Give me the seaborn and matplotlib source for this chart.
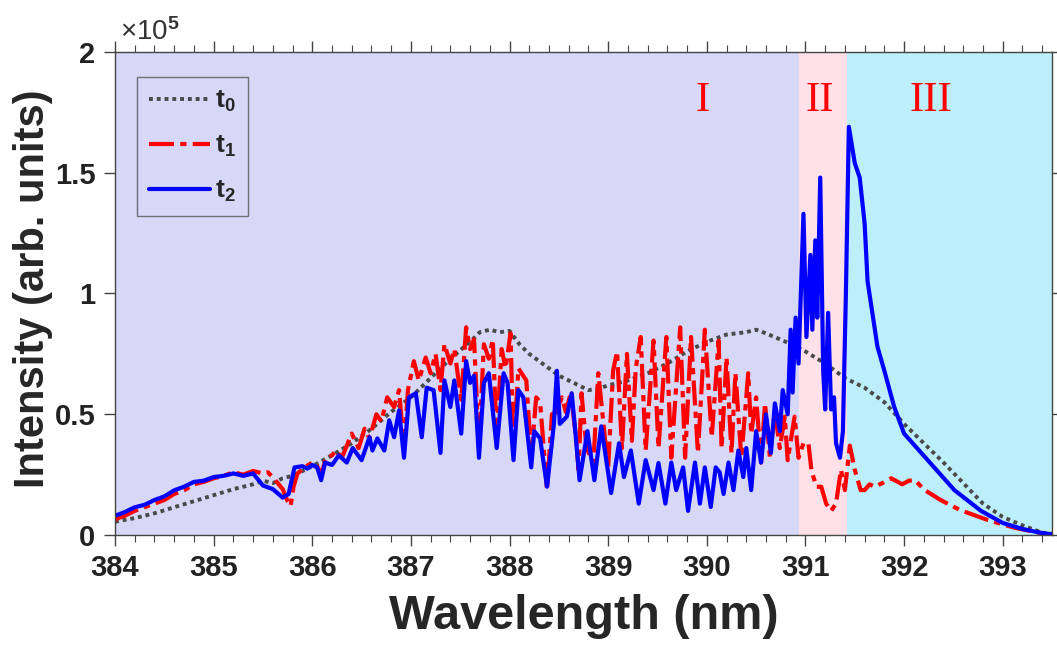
import numpy as np
import matplotlib
matplotlib.use("Agg")
import matplotlib.pyplot as plt
import seaborn as sns
from matplotlib.ticker import MultipleLocator

# spectra: wavelength (nm), intensity in units of 1e3 (arb.)
wl_t0 = [384.0, 384.2, 384.4, 384.6, 384.8, 385.0, 385.2, 385.4, 385.5, 385.6,
         385.7, 385.8, 386.0, 386.2, 386.4, 386.6, 386.8, 387.0, 387.2, 387.4,
         387.6, 387.7, 387.8, 387.9, 388.0, 388.1, 388.2, 388.3, 388.4, 388.5,
         388.6, 388.7, 388.8, 388.9, 389.0, 389.2, 389.4, 389.6, 389.8, 390.0,
         390.2, 390.4, 390.5, 390.6, 390.8, 391.0, 391.2, 391.4, 391.6, 391.8,
         392.0, 392.2, 392.4, 392.6, 392.8, 393.0, 393.2, 393.4, 393.5]
int_t0 = [5.5, 7, 9, 11.5, 14, 16.5, 19, 21, 22.5, 21.5,
          23.5, 24.5, 28.5, 33, 38, 44, 51, 57, 65, 73,
          80, 84, 85, 84, 84.5, 79, 75, 72, 69, 66,
          64, 62, 60, 60.5, 62, 64, 67, 71, 76, 80,
          83, 84, 85, 83.5, 80, 76, 71, 65, 61, 55,
          46, 38, 30, 21.5, 13, 7.5, 4, 1, 0.5]

wl_t1 = [384.0, 384.1, 384.2, 384.3, 384.4, 384.5, 384.6, 384.7, 384.8, 384.9,
         385.0, 385.1, 385.2, 385.3, 385.4, 385.5, 385.55, 385.62, 385.7, 385.75,
         385.78, 385.81, 385.85, 385.92, 386.0, 386.05, 386.09, 386.14, 386.2, 386.24,
         386.3, 386.4, 386.47, 386.53, 386.58, 386.65, 386.7, 386.76, 386.83, 386.88,
         386.93, 386.97, 387.03, 387.08, 387.15, 387.2, 387.25, 387.3, 387.34, 387.4,
         387.44, 387.51, 387.56, 387.6, 387.64, 387.69, 387.74, 387.79, 387.83, 387.87,
         387.92, 387.96, 388.01, 388.04, 388.09, 388.17, 388.22, 388.27, 388.31, 388.38,
         388.43, 388.48, 388.53, 388.57, 388.62, 388.67, 388.7, 388.73, 388.78, 388.85,
         388.9, 388.97, 389.0, 389.05, 389.09, 389.14, 389.19, 389.24, 389.28, 389.33,
         389.38, 389.46, 389.51, 389.59, 389.64, 389.73, 389.78, 389.84, 389.91, 389.98,
         390.05, 390.12, 390.15, 390.2, 390.25, 390.29, 390.35, 390.42, 390.45, 390.5,
         390.55, 390.59, 390.64, 390.69, 390.74, 390.79, 390.82, 390.89, 390.93, 390.98,
         391.03, 391.06, 391.11, 391.16, 391.21, 391.26, 391.31, 391.36, 391.4, 391.45,
         391.5, 391.56, 391.6, 391.65, 391.7, 391.78, 391.87, 391.98, 392.05, 392.11,
         392.21, 392.37, 392.57, 392.85, 393.12, 393.39, 393.5]
int_t1 = [6.5, 8, 10, 11.5, 13, 14.5, 17, 18.5, 21, 22,
          23.5, 24.5, 26, 25, 26.5, 25.5, 26, 23, 19, 14,
          12, 20, 25.5, 28, 30, 28.5, 25, 32, 33, 35,
          32, 42, 36, 44, 40, 50, 47, 57, 53, 60,
          36, 60, 72, 64, 73.5, 67, 75, 60, 79, 71,
          77, 56, 86, 77, 81, 36, 79, 73, 81, 40.5,
          77, 69, 83.5, 35, 69, 64, 32, 57, 55, 18.6,
          50, 51, 57, 51, 58.7, 42, 27, 58.7, 36, 30,
          67, 39, 28, 68, 76, 36, 75, 39, 69, 82,
          35, 80.5, 36, 82, 32, 86, 32, 82, 34, 85,
          40.5, 80.5, 36, 73.5, 34, 67, 32, 67, 42, 57,
          30, 54.5, 32, 51.6, 36, 49, 31, 49, 32, 38,
          38, 27, 20, 20, 13, 10, 13, 27, 18.6, 37,
          27, 18.6, 18.6, 21, 20, 21.5, 23.5, 21, 22.5, 22.7,
          18.6, 14.5, 10.3, 6.2, 3, 0.8, 0.3]

wl_t2 = [384.0, 384.1, 384.2, 384.3, 384.4, 384.5, 384.6, 384.7, 384.8, 384.9,
         385.0, 385.1, 385.2, 385.3, 385.4, 385.45, 385.5, 385.6, 385.7, 385.76,
         385.82, 385.9, 385.95, 386.0, 386.05, 386.09, 386.13, 386.2, 386.27, 386.35,
         386.41, 386.5, 386.58, 386.61, 386.66, 386.73, 386.78, 386.83, 386.88, 386.93,
         386.98, 387.05, 387.11, 387.16, 387.23, 387.3, 387.34, 387.4, 387.44, 387.51,
         387.56, 387.6, 387.64, 387.69, 387.74, 387.79, 387.87, 387.94, 387.98, 388.04,
         388.09, 388.14, 388.22, 388.25, 388.31, 388.38, 388.45, 388.48, 388.51, 388.58,
         388.63, 388.66, 388.71, 388.79, 388.86, 388.93, 389.03, 389.11, 389.16, 389.23,
         389.31, 389.38, 389.46, 389.51, 389.58, 389.64, 389.69, 389.76, 389.81, 389.88,
         389.93, 389.98, 390.04, 390.09, 390.13, 390.17, 390.22, 390.27, 390.32, 390.37,
         390.4, 390.45, 390.5, 390.55, 390.6, 390.65, 390.69, 390.74, 390.77, 390.82,
         390.85, 390.87, 390.9, 390.93, 390.98, 391.01, 391.05, 391.07, 391.1, 391.12,
         391.15, 391.18, 391.2, 391.23, 391.26, 391.29, 391.31, 391.35, 391.38, 391.41,
         391.44, 391.5, 391.55, 391.6, 391.63, 391.73, 391.8, 391.9, 392.0, 392.24,
         392.51, 392.78, 393.0, 393.2, 393.4, 393.5]
int_t2 = [8, 9.5, 11.5, 12.5, 14.5, 16, 18.5, 20, 22, 22.5,
          24, 24.5, 25.5, 24.5, 25.5, 23, 20.5, 19, 15.5, 17,
          28, 28.5, 27.5, 29, 28, 22.7, 30, 29, 33, 30,
          36, 31, 40.5, 35, 40, 35, 47.5, 40.5, 51.6, 32,
          57, 58.7, 40.5, 61, 60, 34, 64, 53, 64, 42,
          72, 63, 66, 32, 63, 67, 36, 67, 63, 31,
          60, 57, 28, 43, 40, 20, 46, 68, 46, 49,
          58.7, 46, 22.7, 43, 22.7, 45, 17.4, 38, 24, 35,
          13, 31, 18.6, 29.8, 13, 30, 18.6, 28, 10, 30,
          13, 28, 11.6, 28, 26, 17, 30, 18.6, 35, 24,
          36, 18.6, 43, 30, 50, 34, 54.5, 43, 60, 50,
          85, 59, 90, 71, 133, 82, 116, 85, 122, 90,
          148, 68, 52, 92, 52, 57, 38, 32, 43, 100,
          169, 154, 148, 129, 105, 78, 68, 53, 42, 31,
          18.6, 10, 5, 2.5, 0.8, 0.3]

series = [("t$_0$", wl_t0, int_t0), ("t$_1$", wl_t1, int_t1), ("t$_2$", wl_t2, int_t2)]

region_edges = [384.0, 390.93, 391.42, 393.5]
region_names = ["I", "II", "III"]
region_label_x = [389.96, 391.15, 392.27]
region_label_y = 1.8e5

xticks = list(range(384, 394))
yticks = [0, 0.5e5, 1e5, 1.5e5, 2e5]
ytick_labels = ["0", "0.5", "1", "1.5", "2"]

sns.set_theme(style="ticks")
plt.rcParams["font.family"] = ["Liberation Sans", "DejaVu Sans"]
plt.rcParams["font.weight"] = "bold"
plt.rcParams["mathtext.fontset"] = "custom"
plt.rcParams["mathtext.default"] = "bf"
plt.rcParams["mathtext.bf"] = "Liberation Sans:bold"
plt.rcParams["mathtext.rm"] = "Liberation Sans"

fig = plt.figure(figsize=(10.57, 6.62), dpi=100)
ax = fig.add_axes([0.1088, 0.1918, 0.8865, 0.7297])

region_colors = ["#d7d7f8", "#fde0e8", "#bdeffb"]
for i in range(3):
    ax.axvspan(region_edges[i], region_edges[i + 1], color=region_colors[i], lw=0, zorder=0)

styles = [dict(color="#4a4a4a", linestyle=(0, (1, 1)), lw=2.8),
          dict(color="#ff0000", linestyle=(0, (6, 1.5, 1.5, 1.5)), lw=3),
          dict(color="#0000ff", linestyle="-", lw=3)]
for (lab, wl, vals), st in zip(series, styles):
    sns.lineplot(x=wl, y=np.array(vals) * 1e3, ax=ax, label=lab,
                 estimator=None, sort=False, **st)

for name, xx in zip(region_names, region_label_x):
    ax.text(xx, region_label_y, name, color="#ff0000", fontsize=31,
            family="Liberation Serif", fontweight="normal", ha="center", va="center")

ax.set_xlim(384, 393.5)
ax.set_ylim(0, 2e5)
ax.set_xticks(xticks)
ax.xaxis.set_minor_locator(MultipleLocator(0.2))
ax.set_yticks(yticks, ytick_labels)
ax.tick_params(which="both", direction="out", top=True, right=True,
               labeltop=False, labelright=False, color="#444444")
ax.tick_params(which="major", length=8, width=1, labelsize=21, pad=6, labelcolor="#222222")
ax.tick_params(which="minor", length=5, width=0.8)
for sp in ax.spines.values():
    sp.set_color("#444444")
    sp.set_linewidth(1)

ax.set_xlabel("Wavelength (nm)", fontsize=35, fontweight="bold", labelpad=8)
ax.set_ylabel("Intensity (arb. units)", fontsize=30, fontweight="bold")
ax.yaxis.set_label_coords(-0.066, 0.51)
ax.text(0.005, 1.012, "×10$^5$", transform=ax.transAxes, fontsize=20,
        fontweight="normal", color="#333333", ha="left", va="bottom")

leg = ax.legend(loc="upper left", bbox_to_anchor=(0.0235, 0.948), fontsize=19,
                handlelength=2.3, frameon=True, fancybox=False, labelspacing=0.75,
                borderpad=0.45, handletextpad=0.2, borderaxespad=0)
leg.get_frame().set_facecolor("none")
leg.get_frame().set_edgecolor("#555555")
leg.get_frame().set_linewidth(1)

fig.savefig("out.png", dpi=100)
